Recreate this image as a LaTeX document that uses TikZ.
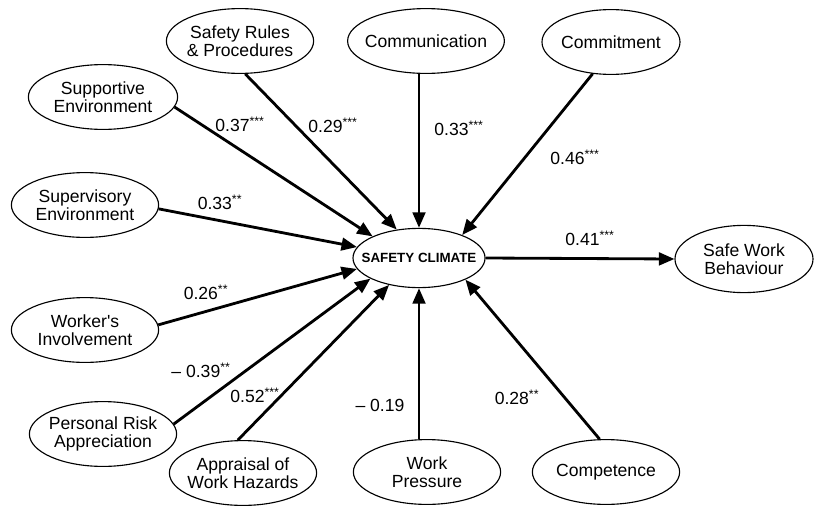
\documentclass[tikz,border=0pt]{standalone}
\usepackage{fontspec}
\setmainfont{Liberation Sans}
\usepackage{tikz}
\usetikzlibrary{shapes}
\usetikzlibrary{arrows.meta}
\tikzset{
	main node/.style={ellipse,draw,line width=0.8pt,inner sep=-4pt,align=center,
		minimum width=3.68cm,minimum height=1.62cm,font=\fontsize{12.5}{13}\selectfont},
	climate node/.style={ellipse,draw,line width=0.8pt,inner xsep=-10pt,
		minimum width=3.3cm,minimum height=1.48cm,font=\fontsize{9.5}{10}\selectfont\bfseries},
	coef/.style={font=\fontsize{12.5}{13}\selectfont,inner sep=1pt}
}

\begin{document}
\begin{tikzpicture}[x=0.025cm,y=-0.025cm,->,>={Triangle[length=11pt,width=9pt]},line width=2pt]
	\useasboundingbox (0,0) rectangle (814,506);
	\node [climate node] (1) at (419,258) {SAFETY CLIMATE};
	\node [main node] (2) at (240,41) {Safety Rules\\\& Procedures};
	\node [main node] (3) at (426,41) {Communication};
	\node [main node,minimum width=3.45cm] (4) at (611,42) {Commitment};
	\node [main node,minimum width=3.73cm] (5) at (103,97) {Supportive\\Environment};
	\node [main node] (6) at (85,205) {Supervisory\\Environment};
	\node [main node] (7) at (85,330) {Worker\textquotesingle s\\Involvement};
	\node [main node] (8) at (103,434) {Personal Risk\\Appreciation};
	\node [main node] (9) at (243,473) {Appraisal of\\Work Hazards};
	\node [main node] (10) at (427,472) {Work\\Pressure};
	\node [main node] (11) at (606,472) {Competence};
	\node [main node,minimum width=3.45cm,minimum height=1.68cm] (12) at (744,259) {Safe Work\\Behaviour};

	\draw (2.-81) -- (1.128);
	\draw (1 |- 3.south) -- (1);
	\draw (4.-120) -- (1.28);
	\draw (5.-8) -- (1.155);
	\draw (6.-3) -- (1.170);
	\draw (7.4) -- (1.190);
	\draw (8.8) -- (1.203);
	\draw (9.99) -- (1.222);
	\draw (1 |- 10.north) -- (1);
	\draw (11.101) -- (1.-25);
	\draw (1.east) -- (12.west);

	\node [coef] (13) at (240,124) {0.37\textsuperscript{***}};
	\node [coef] (14) at (333,125) {0.29\textsuperscript{***}};
	\node [coef] (15) at (459,128) {0.33\textsuperscript{***}};
	\node [coef] (16) at (575,157) {0.46\textsuperscript{***}};
	\node [coef] (17) at (220,202) {0.33\textsuperscript{**}};
	\node [coef] (18) at (590,238) {0.41\textsuperscript{***}};
	\node [coef] (19) at (206,292) {0.26\textsuperscript{**}};
	\node [coef] (20) at (201,370) {-- 0.39\textsuperscript{**}};
	\node [coef] (21) at (255,395) {0.52\textsuperscript{***}};
	\node [coef] (22) at (380,405) {-- 0.19};
	\node [coef] (23) at (517,397) {0.28\textsuperscript{**}};
\end{tikzpicture}
\end{document}
